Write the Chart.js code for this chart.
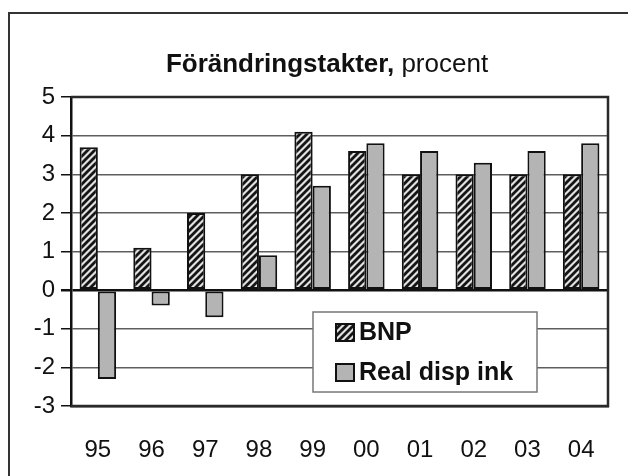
<!DOCTYPE html>
<html>
<head>
<meta charset="utf-8">
<script src="https://cdn.jsdelivr.net/npm/chart.js@4.4.0/dist/chart.umd.min.js"></script>
<style>
  html, body { margin: 0; padding: 0; background: #fff; }
  #wrap { width: 628px; height: 476px; }
</style>
</head>
<body>
<div id="wrap"><canvas id="chart" width="628" height="476"></canvas></div>
<script>
// chart values
const years = ['95', '96', '97', '98', '99', '00', '01', '02', '03', '04'];
const bnp = [3.7, 1.1, 2.0, 3.0, 4.1, 3.6, 3.0, 3.0, 3.0, 3.0];
const realDispInk = [-2.3, -0.4, -0.7, 0.9, 2.7, 3.8, 3.6, 3.3, 3.6, 3.8];
const seriesNames = ['BNP', 'Real disp ink'];
const titleBold = 'Förändringstakter,';
const titleRest = ' procent';
const yMin = -3, yMax = 5, yStep = 1;

const FONT = "'Liberation Sans', Arial, sans-serif";

// diagonal hatch for BNP bars
function makeHatch() {
    const s = 7;
    const c = document.createElement('canvas');
    c.width = s; c.height = s;
    const g = c.getContext('2d');
    g.fillStyle = '#e2e2e2';
    g.fillRect(0, 0, s, s);
    g.strokeStyle = '#151515';
    g.lineWidth = 2.8;
    g.beginPath();
    g.moveTo(-1, 1); g.lineTo(1, -1);
    g.moveTo(-1, s + 1); g.lineTo(s + 1, -1);
    g.moveTo(s - 1, s + 1); g.lineTo(s + 1, s - 1);
    g.stroke();
    return g.createPattern(c, 'repeat');
}

const backdrop = {
    id: 'backdrop',
    beforeDraw(chart) {
        const ctx = chart.ctx;
        ctx.save();
        ctx.fillStyle = '#fff';
        ctx.fillRect(0, 0, chart.width, chart.height);
        // outer frame (only left and top visible)
        ctx.strokeStyle = '#333';
        ctx.lineWidth = 2;
        ctx.strokeRect(9, 13, chart.width + 20, chart.height + 20);
        // title, bold part + normal part
        ctx.fillStyle = '#111';
        ctx.textBaseline = 'alphabetic';
        ctx.font = 'bold 26px ' + FONT;
        const w1 = ctx.measureText(titleBold).width;
        ctx.font = '26px ' + FONT;
        const w2 = ctx.measureText(titleRest).width;
        const x = 327 - (w1 + w2) / 2;
        ctx.font = 'bold 26px ' + FONT;
        ctx.fillText(titleBold, x, 72);
        ctx.font = '26px ' + FONT;
        ctx.fillText(titleRest, x + w1, 72);
        ctx.restore();
    }
};

const frameAndLegend = {
    id: 'frameAndLegend',
    afterDatasetsDraw(chart) {
        const ctx = chart.ctx;
        const a = chart.chartArea;
        ctx.save();
        ctx.strokeStyle = '#2a2a2a';
        ctx.lineWidth = 2.5;
        ctx.beginPath();
        ctx.moveTo(a.left, a.top);
        ctx.lineTo(a.right, a.top);
        ctx.lineTo(a.right, a.bottom);
        ctx.lineTo(a.left, a.bottom);
        ctx.stroke();

        // legend box
        const bx = 313, by = 312, bw = 224, bh = 80;
        ctx.fillStyle = '#fff';
        ctx.fillRect(bx, by, bw, bh);
        ctx.strokeStyle = '#777';
        ctx.lineWidth = 1.5;
        ctx.strokeRect(bx, by, bw, bh);
        ctx.font = 'bold 25px ' + FONT;
        ctx.textBaseline = 'middle';
        chart.data.datasets.forEach((ds, i) => {
            const cy = by + 20 + i * 40;
            ctx.fillStyle = ds.backgroundColor;
            ctx.fillRect(336, cy - 8, 18, 17);
            ctx.strokeStyle = '#111';
            ctx.lineWidth = 2;
            ctx.strokeRect(336, cy - 8, 18, 17);
            ctx.fillStyle = '#111';
            ctx.fillText(ds.label, 359, cy + 1);
        });
        ctx.restore();
    }
};

const ctx = document.getElementById('chart').getContext('2d');
new Chart(ctx, {
    type: 'bar',
    data: {
        labels: years,
        datasets: [{
            label: seriesNames[0],
            data: bnp,
            backgroundColor: makeHatch(),
            borderColor: '#111',
            borderWidth: 2,
            borderSkipped: false
        }, {
            label: seriesNames[1],
            data: realDispInk,
            backgroundColor: '#b4b4b4',
            borderColor: '#111',
            borderWidth: 2,
            borderSkipped: false
        }]
    },
    options: {
        responsive: false,
        animation: false,
        layout: { padding: { top: 97, right: 20, left: 0, bottom: 0 } },
        plugins: {
            legend: { display: false },
            title: { display: false },
            tooltip: { enabled: false }
        },
        datasets: {
            bar: { barPercentage: 1.0, categoryPercentage: 0.68 }
        },
        scales: {
            x: {
                grid: { display: false },
                border: { display: true, color: '#2a2a2a', width: 2.5 },
                ticks: {
                    color: '#111',
                    font: { family: FONT, size: 24 },
                    padding: 22,
                    maxRotation: 0
                },
                afterFit(scale) { scale.height = 70; }
            },
            y: {
                min: yMin,
                max: yMax,
                border: { color: '#111', width: 2.5 },
                grid: {
                    color: c => (c.tick && c.tick.value === 0) ? '#111' : '#5e5e5e',
                    lineWidth: c => (c.tick && c.tick.value === 0) ? 2.5 : 1.5,
                    tickColor: '#111',
                    tickLength: 10
                },
                ticks: {
                    stepSize: yStep,
                    color: '#111',
                    font: { family: FONT, size: 24 },
                    padding: 6
                },
                afterFit(scale) { scale.width = 71; }
            }
        }
    },
    plugins: [backdrop, frameAndLegend]
});
</script>
</body>
</html>
